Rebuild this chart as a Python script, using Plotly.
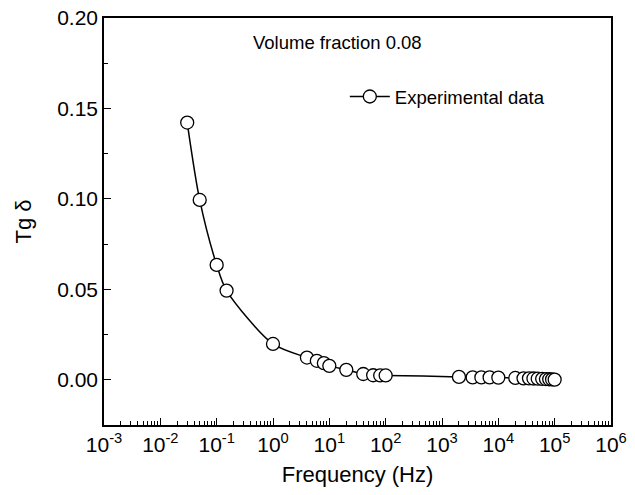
import plotly.graph_objects as go

# ---- data ----
freq_hz = [0.03, 0.05, 0.1, 0.15, 1, 4, 6, 8, 10, 20, 40, 60, 80, 100,
           2000, 3500, 5000, 7000, 10000, 20000, 28000, 35000, 42000, 50000,
           60000, 70000, 80000, 90000, 100000]
tg_delta = [0.1422, 0.0994, 0.0635, 0.0493, 0.0198, 0.0123, 0.0105, 0.0092, 0.0077,
            0.0055, 0.0032, 0.0025, 0.0024, 0.0024,
            0.0016, 0.0013, 0.0013, 0.0013, 0.0012, 0.0010, 0.0008, 0.0008, 0.0007,
            0.0006, 0.0005, 0.0004, 0.0003, 0.0002, 0.0001]

series_name = "Experimental data"
note_text = "Volume fraction 0.08"

x_tickvals = [1e-3, 1e-2, 1e-1, 1e0, 1e1, 1e2, 1e3, 1e4, 1e5, 1e6]
x_ticktext = ["10<sup>-3</sup>", "10<sup>-2</sup>", "10<sup>-1</sup>", "10<sup>0</sup>",
              "10<sup>1</sup>", "10<sup>2</sup>", "10<sup>3</sup>", "10<sup>4</sup>",
              "10<sup>5</sup>", "10<sup>6</sup>"]
y_tickvals = [0.00, 0.05, 0.10, 0.15, 0.20]
y_ticktext = ["0.00", "0.05", "0.10", "0.15", "0.20"]

x_minor = [m * 10.0 ** e for e in range(-3, 6) for m in range(2, 10)]

FONT = "Liberation Sans, Arial, sans-serif"

fig = go.Figure()
fig.add_trace(go.Scatter(
    x=freq_hz, y=tg_delta, name=series_name, mode="lines+markers",
    line=dict(color="black", width=1.5, shape="spline", smoothing=0.8),
    marker=dict(symbol="circle", size=13, color="white",
                line=dict(color="black", width=1.3)),
))

fig.add_annotation(
    x=0.4605, y=0.939, xref="paper", yref="paper", text=note_text,
    showarrow=False, xanchor="center", yanchor="middle",
    font=dict(family=FONT, size=18.5, color="black"),
)

fig.update_layout(
    width=635, height=495,
    margin=dict(l=104, r=24, t=18, b=70, autoexpand=False),
    paper_bgcolor="white", plot_bgcolor="white",
    font=dict(family=FONT, color="black"),
    showlegend=True,
    legend=dict(x=0.475, y=0.806, xanchor="left", yanchor="middle",
                itemwidth=40,
                bgcolor="rgba(0,0,0,0)", borderwidth=0,
                font=dict(family=FONT, size=18.5, color="black")),
)

fig.update_xaxes(
    type="log", range=[-3, 6],
    tickmode="array", tickvals=x_tickvals, ticktext=x_ticktext,
    ticks="inside", ticklen=7, tickwidth=1.3, tickcolor="black",
    ticklabeloverflow="allow",
    showline=True, linecolor="black", linewidth=1.6, mirror=True,
    showgrid=False, zeroline=False,
    tickfont=dict(family=FONT, size=21, color="black"),
    minor=dict(tickmode="array", tickvals=x_minor, ticks="inside", ticklen=4,
               tickwidth=1, tickcolor="black", showgrid=False),
    title=dict(text="Frequency (Hz)", standoff=12,
               font=dict(family=FONT, size=22, color="black")),
)
fig.update_yaxes(
    range=[-0.025, 0.20],
    tickmode="array", tickvals=y_tickvals, ticktext=y_ticktext,
    ticks="inside", ticklen=7, tickwidth=1.3, tickcolor="black",
    ticklabeloverflow="allow",
    showline=True, linecolor="black", linewidth=1.6, mirror=True,
    showgrid=False, zeroline=False,
    tickfont=dict(family=FONT, size=21, color="black"),
    minor=dict(dtick=0.025, ticks="inside", ticklen=4, tickwidth=1,
               tickcolor="black", showgrid=False),
    title=dict(text="Tg δ", standoff=19,
               font=dict(family=FONT, size=22, color="black")),
)

fig.write_html(
    "out.html",
    config={"displayModeBar": False},
    post_script="document.body.style.margin='0';document.body.style.overflow='hidden';",
)
